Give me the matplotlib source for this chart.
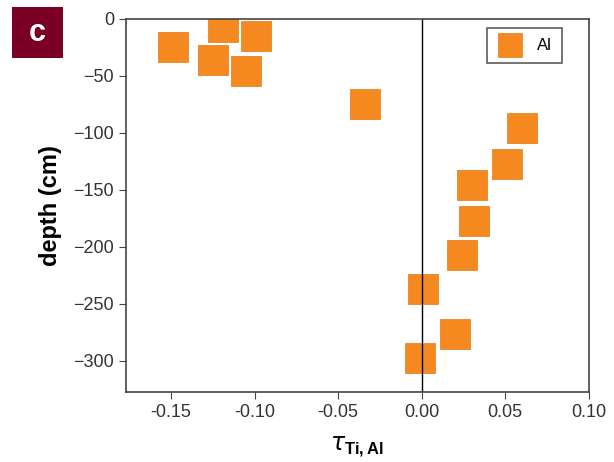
import matplotlib.pyplot as plt
from matplotlib.patches import FancyBboxPatch

plt.rcParams['font.family'] = ['Liberation Sans', 'DejaVu Sans']
plt.rcParams['mathtext.fontset'] = 'custom'
plt.rcParams['mathtext.rm'] = 'Liberation Sans'
plt.rcParams['mathtext.bf'] = 'Liberation Sans:bold'

# tau Ti,Al values and sample depths (cm)
tau = [-0.119, -0.099, -0.149, -0.125, -0.105, -0.034, 0.060,
       0.051, 0.030, 0.031, 0.024, 0.001, 0.020, -0.001]
depth = [-7, -15, -25, -36, -46, -75, -96,
         -127, -146, -177, -207, -237, -276, -297]

xticks = [-0.15, -0.10, -0.05, 0.00, 0.05, 0.10]
yticks = [0, -50, -100, -150, -200, -250, -300]

fig = plt.figure(figsize=(6.14, 4.62), dpi=100)
ax = fig.add_axes([0.205, 0.152, 0.754, 0.807])

ax.plot(tau, depth, 's', color='#f5881f', markersize=21, markeredgewidth=0.5,
        markeredgecolor='#e07a15', label='Al', linestyle='none')
ax.axvline(0, color='black', lw=1)

ax.set_xlim(-0.177, 0.10)
ax.set_ylim(-327, 0)
ax.set_xticks(xticks)
ax.set_xticklabels(['%.2f' % t for t in xticks])
ax.set_yticks(yticks)
ax.tick_params(labelsize=13, direction='out', length=5, color='#444444', labelcolor='#333333')
for s in ax.spines.values():
    s.set_color('#444444')
    s.set_linewidth(1.2)

ax.set_ylabel('depth (cm)', fontsize=17, fontweight='bold', labelpad=8)
ax.set_xlabel(r'$\tau_{\mathbf{Ti,Al}}$', fontsize=17, labelpad=10)

leg = ax.legend(loc='upper right', fontsize=12, frameon=True, fancybox=False,
                edgecolor='#333333', markerscale=0.8, handletextpad=0.8,
                handlelength=1.6, borderpad=0.6, bbox_to_anchor=(0.96, 0.997))
leg.get_frame().set_linewidth(1.2)

# panel label
fig.patches.append(FancyBboxPatch((12 / 614, 1 - 58 / 462), 51 / 614, 51 / 462,
                                  boxstyle='square,pad=0', transform=fig.transFigure,
                                  facecolor='#7a0026', edgecolor='none'))
fig.text(37.5 / 614, 1 - 33 / 462, 'c', color='white', fontsize=22,
         fontweight='bold', ha='center', va='center')

fig.savefig('out.png', dpi=100)
